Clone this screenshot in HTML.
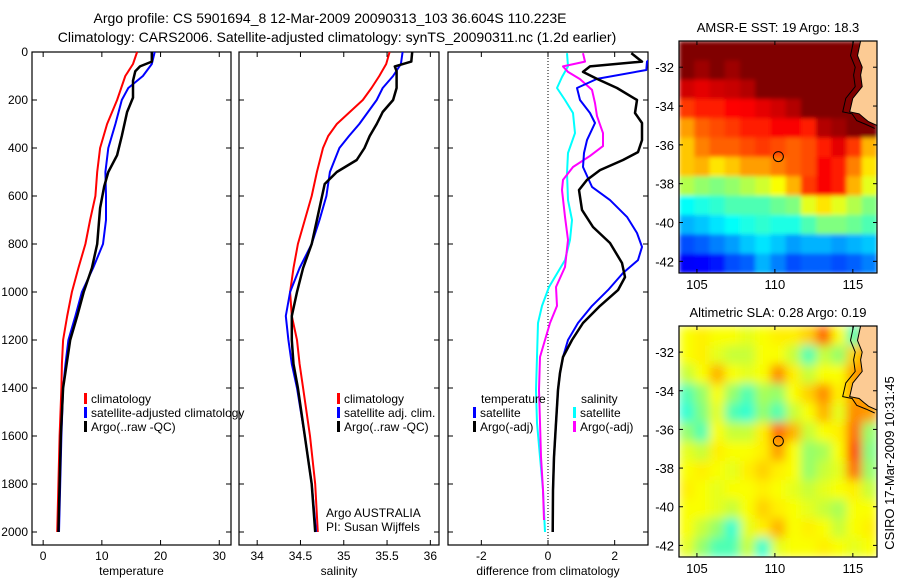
<!DOCTYPE html>
<html><head><meta charset="utf-8"><style>
body{margin:0;background:#fff;}
svg{display:block;font-family:"Liberation Sans",sans-serif;}
text{fill:#000;}
</style></head><body>
<svg id="fig" width="900" height="580" viewBox="0 0 900 580">
<defs>
<filter id="blurSST" x="0" y="0" width="1" height="1"><feGaussianBlur stdDeviation="2" edgeMode="duplicate"/></filter>
<filter id="blurSLA" x="0" y="0" width="1" height="1"><feGaussianBlur stdDeviation="5" edgeMode="duplicate"/></filter>
</defs>
<text x="330" y="23" font-size="14" text-anchor="middle">Argo profile: CS 5901694_8 12-Mar-2009 20090313_103 36.604S 110.223E</text>
<text x="337" y="42" font-size="14" text-anchor="middle">Climatology: CARS2006. Satellite-adjusted climatology: synTS_20090311.nc (1.2d earlier)</text>
<g id="p1"></g>
<g id="p2"></g>
<g id="p3"></g>
<g id="m1"></g>
<g id="m2"></g>
<text transform="translate(894,463) rotate(-90)" font-size="13" text-anchor="middle">CSIRO 17-Mar-2009 10:31:45</text>
</svg>
<script>
// ---- profile data ----
const depthClim = [0,50,100,150,200,300,400,500,600,700,800,900,1000,1100,1200,1300,1400,1600,1800,2000];
const tempClim = [16,15.3,14,13.3,12.6,10.9,9.7,9.2,8.9,8,7.2,6,4.9,4.1,3.4,3.2,3.1,2.8,2.6,2.4];
const tempSat = [19,18.5,17,14.5,13.4,12.3,11.1,10.6,10.7,10.7,10.2,8.5,6.6,5.5,4.3,3.8,3.4,3.1,2.9,2.7];
const depthArgoT = [0,40,60,80,120,190,250,350,430,500,560,650,800,900,1000,1100,1200,1400,1600,1800,2000];
const tempArgo = [18.5,18.5,16.5,15.7,15.3,15.3,14.3,13.4,12.6,11.1,10.4,9.7,9.2,8.3,6.9,5.8,4.6,3.4,3,2.8,2.6];
const depthSal = [0,50,100,150,200,250,300,350,400,500,600,700,800,900,1000,1100,1200,1300,1400,1600,1800,2000];
const salClim = [35.53,35.49,35.41,35.32,35.22,35.07,34.92,34.82,34.76,34.69,34.63,34.55,34.47,34.42,34.38,34.4,34.46,34.49,34.53,34.61,34.67,34.7];
const salSat = [35.68,35.66,35.57,35.45,35.38,35.28,35.18,35.06,34.95,34.84,34.8,34.72,34.63,34.49,34.38,34.33,34.36,34.4,34.46,34.55,34.63,34.68];
const depthArgoS = [0,40,60,80,150,200,250,300,350,400,450,500,550,600,700,800,900,1000,1100,1200,1300,1400,1600,1800,2000];
const salArgo = [35.79,35.78,35.59,35.61,35.61,35.57,35.45,35.38,35.3,35.24,35.15,34.92,34.78,34.75,34.69,34.63,34.53,34.46,34.4,34.4,34.42,34.47,34.55,34.63,34.67];
const depthDiffSatT = [0,40,75,112,150,200,254,296,367,421,479,562,617,687,754,812,867,921,992,1058,1129,1200,1271,1337,1408,1546,1687,1825,2000];
const diffSatT = [3.3,2.97,2.95,1.47,0.87,0.96,1.26,1.41,1.17,1.08,1.05,1.32,1.86,2.37,2.67,2.82,2.7,2.25,1.8,1.32,0.9,0.6,0.45,0.36,0.3,0.24,0.18,0.15,0.15];
const depthDiffArgoT = [5,40,60,83,112,150,200,254,296,367,417,450,492,533,575,658,729,796,879,938,992,1058,1129,1200,1271,1337,1408,1546,1687,1825,2000];
const diffArgoT = [2.5,2.82,1.26,1.05,1.47,2.07,2.67,2.61,2.82,2.82,2.7,2.25,1.56,1.17,0.93,1.02,1.35,1.86,2.22,2.31,2.1,1.56,1.05,0.72,0.45,0.36,0.3,0.24,0.18,0.15,0.14];
const depthDiffSatS = [5,60,104,150,200,254,338,421,504,617,700,783,867,979,1058,1129,1271,1408,1546,1687,1825,2000];
const diffSatS = [0.57,0.6,0.42,0.27,0.51,0.75,0.81,0.6,0.57,0.6,0.72,0.66,0.51,0.03,-0.18,-0.3,-0.33,-0.36,-0.33,-0.24,-0.15,-0.09];
const depthDiffArgoS = [5,40,60,83,113,158,213,267,338,392,433,479,533,575,687,783,896,979,1058,1129,1271,1408,1546,1687,1825,1950];
const diffArgoS = [1.05,1.11,0.45,0.6,0.96,1.32,1.41,1.47,1.65,1.65,1.26,0.75,0.45,0.42,0.51,0.6,0.51,0.24,0.27,0.06,-0.24,-0.27,-0.24,-0.21,-0.15,-0.12];
const depthTicks = [0,200,400,600,800,1000,1200,1400,1600,1800,2000];
const tempTicks = [0,10,20,30];
const salTicks = [34,34.5,35,35.5,36];
const salTickLabels = ["34","34.5","35","35.5","36"];
const diffTicks = [-2,0,2];
// ---- map data (jet colour index 0..1), rows north->south, cols west->east ----
const sstRows = [
[1,1,1,1,1,1,1,1,1,1,1,1,1],
[1,0.97,1,0.97,1,1,1,1,1,1,1,1,1],
[0.92,0.9,0.92,0.93,0.95,1,1,1,1,1,1,1,1],
[0.82,0.85,0.85,0.87,0.88,0.9,0.92,0.95,1,1,1,1,1],
[0.72,0.78,0.8,0.82,0.85,0.85,0.88,0.88,0.85,0.95,0.97,1,1],
[0.68,0.75,0.78,0.78,0.8,0.82,0.8,0.78,0.8,0.85,0.9,0.82,0.7],
[0.68,0.7,0.65,0.68,0.72,0.72,0.75,0.78,0.8,0.88,0.85,0.75,0.65],
[0.55,0.52,0.5,0.52,0.55,0.58,0.62,0.7,0.82,0.88,0.85,0.7,0.6],
[0.38,0.4,0.42,0.45,0.45,0.45,0.48,0.5,0.6,0.65,0.6,0.55,0.5],
[0.3,0.32,0.35,0.38,0.4,0.42,0.4,0.4,0.45,0.5,0.5,0.48,0.45],
[0.2,0.22,0.25,0.28,0.32,0.35,0.32,0.28,0.3,0.3,0.28,0.3,0.32],
[0.12,0.13,0.15,0.2,0.22,0.3,0.25,0.2,0.22,0.22,0.2,0.22,0.25]];
const slaRows = [
[0.62,0.64,0.62,0.62,0.6,0.62,0.64,0.64,0.67,0.78,0.62,0.45,0.7],
[0.62,0.64,0.6,0.57,0.57,0.62,0.62,0.57,0.45,0.57,0.52,0.67,0.75],
[0.57,0.62,0.7,0.62,0.6,0.62,0.74,0.64,0.57,0.62,0.62,0.72,0.75],
[0.45,0.52,0.62,0.52,0.45,0.54,0.52,0.62,0.67,0.74,0.64,0.72,0.72],
[0.42,0.5,0.6,0.45,0.42,0.52,0.45,0.57,0.62,0.7,0.6,0.74,0.72],
[0.52,0.45,0.62,0.57,0.57,0.64,0.77,0.7,0.57,0.62,0.64,0.77,0.52],
[0.6,0.57,0.64,0.62,0.62,0.64,0.72,0.62,0.52,0.54,0.62,0.82,0.5],
[0.62,0.64,0.62,0.6,0.64,0.67,0.64,0.62,0.52,0.57,0.6,0.77,0.52],
[0.64,0.62,0.6,0.62,0.62,0.64,0.62,0.6,0.57,0.6,0.62,0.64,0.57],
[0.62,0.62,0.6,0.57,0.62,0.67,0.64,0.62,0.6,0.57,0.54,0.62,0.62],
[0.62,0.57,0.52,0.42,0.6,0.64,0.7,0.62,0.64,0.62,0.57,0.62,0.64],
[0.6,0.52,0.45,0.45,0.57,0.42,0.6,0.62,0.62,0.64,0.62,0.6,0.62]];
const lonTicks = [105,110,115];
const latTicks = [-32,-34,-36,-38,-40,-42];
const argoPos = [110.223,-36.604];
const coastLon = [115.5,115.3,115.6,115.5,115.6,115.0,114.8,115.4,115.7,116.0,116.55];
const coastLat = [-30.65,-31.4,-32.0,-32.4,-33.0,-33.6,-34.3,-34.4,-34.6,-34.8,-35.0];

const NS='http://www.w3.org/2000/svg';
function mk(tag,attrs,parent){const e=document.createElementNS(NS,tag);for(const k in attrs)e.setAttribute(k,attrs[k]);parent.appendChild(e);return e;}
function txt(s,x,y,anchor,parent,size){const t=mk('text',{x:x,y:y,'font-size':size||12,'text-anchor':anchor},parent);t.textContent=s;return t;}

const Y0=52,Y1=532,AXB=545;
function yD(d){return Y0+(Y1-Y0)*d/2000;}

function panel(g,x0,x1,xmin,xmax,xticks,xlabels,xlabel,showY){
  const xs=v=>x0+(v-xmin)/(xmax-xmin)*(x1-x0);
  const clip=mk('clipPath',{id:'c'+g.id},g);mk('rect',{x:x0,y:Y0-8,width:x1-x0,height:AXB-Y0+8},clip);
  const fr=mk('rect',{x:x0,y:Y0,width:x1-x0,height:AXB-Y0,fill:'none',stroke:'#000','stroke-width':1.2},g);
  
  xticks.forEach((v,i)=>{const x=xs(v);
    mk('line',{x1:x,x2:x,y1:Y0,y2:Y0+5,stroke:'#000'},g);mk('line',{x1:x,x2:x,y1:AXB,y2:AXB-5,stroke:'#000'},g);
    const t=txt(xlabels[i],x,560,'middle',g);});
  depthTicks.forEach(d=>{const y=yD(d);
    mk('line',{x1:x0,x2:x0+5,y1:y,y2:y,stroke:'#000'},g);mk('line',{x1:x1,x2:x1-5,y1:y,y2:y,stroke:'#000'},g);
    if(showY){const t=txt(String(d),28,y+4,'end',g);}});
  const xl=txt(xlabel,(x0+x1)/2,575,'middle',g);
  return xs;
}
function series(g,xs,depths,vals,color,w,name){
  const pts=depths.map((d,i)=>xs(vals[i]).toFixed(1)+','+yD(d).toFixed(1)).join(' ');
  const p=mk('polyline',{points:pts,fill:'none',stroke:color,'stroke-width':w,'clip-path':'url(#c'+g.id+')','stroke-linejoin':'round'},g);
  
}
function legend(g,x,y,color,label){
  const r=mk('rect',{x:x,y:y-10,width:3,height:11,fill:color},g);
  
  if(label){const t=txt(label,x+7,y,'start',g);}
}

const p1=document.getElementById('p1');
const xs1=panel(p1,32,231,-1.9,32,tempTicks,tempTicks.map(String),'temperature',true);
series(p1,xs1,depthClim,tempClim,'#f00',2,'temp-climatology-line');
series(p1,xs1,depthClim,tempSat,'#00f',2,'temp-satellite-line');
series(p1,xs1,depthArgoT,tempArgo,'#000',2.5,'temp-argo-line');
legend(p1,84,403,'#f00','climatology');legend(p1,84,417,'#00f','satellite-adjusted climatology');legend(p1,84,431,'#000','Argo(..raw -QC)');

const p2=document.getElementById('p2');
const xs2=panel(p2,239,439,33.79,36.1,salTicks,salTickLabels,'salinity',false);
series(p2,xs2,depthSal,salClim,'#f00',2,'sal-climatology-line');
series(p2,xs2,depthSal,salSat,'#00f',2,'sal-satellite-line');
series(p2,xs2,depthArgoS,salArgo,'#000',2.5,'sal-argo-line');
legend(p2,337,403,'#f00','climatology');legend(p2,337,417,'#00f','satellite adj. clim.');legend(p2,337,431,'#000','Argo(..raw -QC)');
let t=txt('Argo AUSTRALIA',326,517,'start',p2);
t=txt('PI: Susan Wijffels',326,531,'start',p2);

const p3=document.getElementById('p3');
const xs3=panel(p3,448,648,-3,3,diffTicks,diffTicks.map(String),'difference from climatology',false);
const zl=mk('line',{x1:xs3(0),x2:xs3(0),y1:Y0,y2:AXB,stroke:'#000','stroke-dasharray':'1,2'},p3);

series(p3,xs3,depthDiffSatS,diffSatS,'#0ff',2,'sal-diff-satellite-line');
series(p3,xs3,depthDiffArgoS,diffArgoS,'#f0f',2,'sal-diff-argo-line');
series(p3,xs3,depthDiffSatT,diffSatT,'#00f',2,'temp-diff-satellite-line');
series(p3,xs3,depthDiffArgoT,diffArgoT,'#000',2.5,'temp-diff-argo-line');
t=txt('temperature',481,403,'start',p3);
legend(p3,473,417,'#00f','satellite');legend(p3,473,431,'#000','Argo(-adj)');
t=txt('salinity',581,403,'start',p3);
legend(p3,573,417,'#0ff','satellite');legend(p3,573,431,'#f0f','Argo(-adj)');

function jet(v){v=Math.max(0,Math.min(1,v));
  const c=x=>Math.round(255*Math.max(0,Math.min(1,x)));
  const r=c(Math.min(4*v-1.5,-4*v+4.5)),g=c(Math.min(4*v-0.5,-4*v+3.5)),b=c(Math.min(4*v+0.5,-4*v+2.5));
  return `rgb(${r},${g},${b})`;}
const LON0=103.85,LON1=116.55,LAT0=-30.65,LAT1=-42.6;
function map(g,top,bot,rows,title,filt){
  const L=679,R=877;
  const xs=lon=>L+(lon-LON0)/(LON1-LON0)*(R-L), ys=lat=>top+(lat-LAT0)/(LAT1-LAT0)*(bot-top);
  const nr=rows.length,nc=rows[0].length,cw=(R-L)/nc,ch=(bot-top)/nr;
  const clip=mk('clipPath',{id:'clip'+g.id},g);mk('rect',{x:L,y:top,width:R-L,height:bot-top},clip);
  const outer=mk('g',{'clip-path':'url(#clip'+g.id+')'},g);
  const cg=mk('g',{filter:'url(#'+filt+')'},outer);
  rows.forEach((row,i)=>row.forEach((v,j)=>{
    const r=mk('rect',{x:(L+j*cw).toFixed(2),y:(top+i*ch).toFixed(2),width:(cw+0.6).toFixed(2),height:(ch+0.6).toFixed(2),fill:jet(v)},cg);
    }));
  let pts=coastLon.map((lo,i)=>xs(lo).toFixed(1)+','+ys(coastLat[i]).toFixed(1));
  const land=mk('polygon',{points:pts.join(' ')+' '+R+','+ys(-35)+' '+R+','+top,fill:'#fccb94',stroke:'#000','stroke-width':1},g);
  
  const iso=mk('polyline',{points:coastLon.map((lo,i)=>xs(lo-0.45+(i>8?0.3:0)).toFixed(1)+','+ys(coastLat[i]-(i>7?0.15:0)).toFixed(1)).join(' '),fill:'none',stroke:'#000','stroke-width':1},g);
  
  const fr=mk('rect',{x:L,y:top,width:R-L,height:bot-top,fill:'none',stroke:'#000','stroke-width':1.2},g);
  
  lonTicks.forEach(lo=>{const x=xs(lo);mk('line',{x1:x,x2:x,y1:top,y2:top+4,stroke:'#000'},g);mk('line',{x1:x,x2:x,y1:bot,y2:bot-4,stroke:'#000'},g);
    const tt=txt(String(lo),x,bot+16,'middle',g,13);});
  latTicks.forEach(la=>{const y=ys(la);mk('line',{x1:L,x2:L+4,y1:y,y2:y,stroke:'#000'},g);mk('line',{x1:R,x2:R-4,y1:y,y2:y,stroke:'#000'},g);
    const tt=txt(String(la),674,y+5,'end',g,13);});
  const c=mk('circle',{cx:xs(argoPos[0]),cy:ys(argoPos[1]),r:5,fill:'none',stroke:'#000','stroke-width':1},g);
  
  const tt=txt(title,778,top-9,'middle',g,13);
}
map(document.getElementById('m1'),41,273,sstRows,'AMSR-E SST: 19 Argo: 18.3','blurSST');
map(document.getElementById('m2'),326,557,slaRows,'Altimetric SLA: 0.28 Argo: 0.19','blurSLA');
</script>
</body></html>
